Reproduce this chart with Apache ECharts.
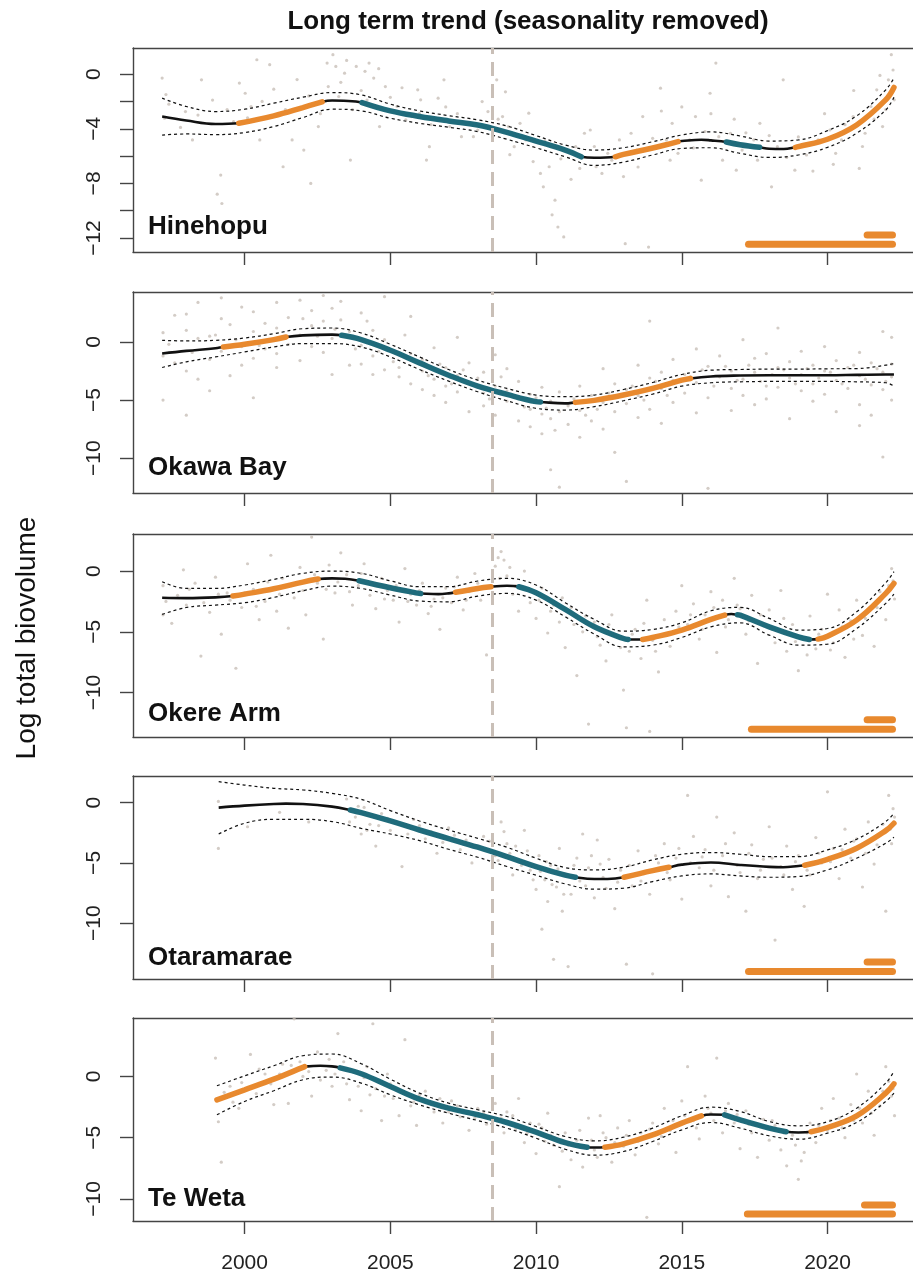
<!DOCTYPE html>
<html>
<head>
<meta charset="utf-8">
<title>Long term trend</title>
<script src="https://cdn.jsdelivr.net/npm/echarts@6/dist/echarts.min.js"></script>
<style>
  html, body { margin: 0; padding: 0; background: #fff; }
  #chart { width: 913px; height: 1273px; }
</style>
</head>
<body>
<div id="chart"></div>
<script>
// 站点名称
const sites = ['Hinehopu', 'Okawa Bay', 'Okere Arm', 'Otaramarae', 'Te Weta']

// 坐标轴
const xTicks = [2000, 2005, 2010, 2015, 2020]
const yMin = [-13.02, -13.0, -13.66, -14.63, -11.8]
const yMax = [1.91, 4.3, 3.05, 2.21, 4.77]
const yTicks = [[-12, -10, -8, -6, -4, -2, 0], [-10, -5, 0], [-10, -5, 0], [-10, -5, 0], [-10, -5, 0]]
const yLabels = [[-12, -8, -4, 0], [-10, -5, 0], [-10, -5, 0], [-10, -5, 0], [-10, -5, 0]]
const breakYear = 2008.5

// Hinehopu
const hinehopuFit = [[1997.17,-3.11],[1998,-3.4],[1999,-3.65],[1999.8,-3.6],[2001,-3.06],[2002,-2.45],[2002.66,-2.03],[2003,-1.93],[2003.4,-1.95],[2004.03,-2.08],[2005,-2.69],[2006,-3.1],[2007,-3.43],[2008,-3.72],[2009,-4.26],[2010,-4.9],[2011,-5.56],[2011.55,-6.05],[2012,-6.12],[2012.72,-6.05],[2013,-5.88],[2014,-5.41],[2014.87,-4.94],[2015,-4.9],[2015.67,-4.8],[2016,-4.85],[2016.53,-4.97],[2017,-5.17],[2017.67,-5.36],[2018,-5.46],[2018.5,-5.48],[2018.9,-5.36],[2019,-5.31],[2020,-4.77],[2021,-3.72],[2022,-1.88],[2022.28,-0.98]]
const hinehopuUpper = [[1997.17,-1.76],[1998,-2.37],[1999,-2.74],[2000,-2.57],[2001,-2.13],[2002,-1.69],[2003,-1.35],[2004,-1.52],[2005,-2.2],[2006,-2.69],[2007,-3.04],[2008,-3.35],[2009,-3.8],[2010,-4.5],[2011,-5.19],[2012,-5.56],[2013,-5.39],[2014,-4.95],[2015,-4.46],[2016,-4.23],[2017,-4.53],[2018,-4.9],[2019,-4.82],[2020,-4.14],[2021,-3.06],[2022,-1.15],[2022.28,-0.29]]
const hinehopuLower = [[1997.17,-4.46],[1998,-4.38],[1999,-4.43],[2000,-4.28],[2001,-3.84],[2002,-3.18],[2003,-2.57],[2004,-2.69],[2005,-3.23],[2006,-3.6],[2007,-3.89],[2008,-4.21],[2009,-4.77],[2010,-5.39],[2011,-6.05],[2012,-6.68],[2013,-6.44],[2014,-5.92],[2015,-5.44],[2016,-5.39],[2017,-5.8],[2018,-6.1],[2019,-5.92],[2020,-5.36],[2021,-4.33],[2022,-2.62],[2022.28,-1.69]]
const hinehopuSegs = [[1999.8,2002.66,'inc'],[2004.03,2011.55,'dec'],[2012.72,2014.87,'inc'],[2016.53,2017.67,'dec'],[2018.9,2022.28,'inc']]
const hinehopuBars = [[2017.29,2022.23,-12.46],[2021.36,2022.23,-11.78]]
const hinehopuDots = [[1997.17,-0.29],[1997.25,-3.23],[1997.97,-2.74],[1998.21,-4.82],[1998.52,-0.42],[1999.06,-8.79],[1999.18,-7.39],[1999.22,-9.47],[1999.62,-3.48],[1999.82,-0.66],[2000.02,-1.4],[2000.22,-2.37],[2000.42,1.05],[2000.52,-4.82],[2000.86,0.69],[2001.32,-6.78],[2001.63,-4.82],[2002.03,-5.56],[2002.27,-8.0],[2002.53,-3.84],[2002.83,0.81],[2002.87,-0.91],[2003.03,1.42],[2003.13,0.56],[2003.23,-1.64],[2003.43,0.07],[2003.63,-6.29],[2003.83,0.56],[2004.13,0.2],[2004.27,0.81],[2004.43,-0.29],[2004.63,-3.84],[2004.83,-0.91],[2005.23,-2.37],[2005.53,-3.35],[2005.74,-3.11],[2005.94,-1.15],[2006.04,-1.88],[2006.24,-6.29],[2006.34,-5.31],[2006.64,-1.76],[2006.84,-0.42],[2007.04,-3.84],[2007.44,-4.58],[2007.85,-4.58],[2008.15,-2.01],[2008.35,-2.74],[2008.65,-0.42],[2008.85,-3.11],[2009.05,-3.84],[2009.25,-5.31],[2009.45,-3.6],[2009.65,-4.82],[2009.75,-2.86],[2010.15,-7.27],[2010.25,-8.25],[2010.45,-6.78],[2010.65,-9.23],[2010.75,-11.19],[2010.95,-11.92],[2011.05,-5.56],[2011.36,-5.31],[2011.66,-4.33],[2011.86,-4.09],[2012.06,-6.78],[2012.26,-7.27],[2012.46,-5.8],[2012.86,-4.82],[2013.06,-12.41],[2013.26,-4.33],[2013.46,-5.56],[2013.66,-3.11],[2013.86,-12.66],[2014.27,-1.03],[2014.47,-4.82],[2014.67,-3.6],[2014.87,-5.8],[2015.27,-4.82],[2015.47,-3.11],[2015.67,-7.76],[2015.97,-1.4],[2016.17,0.81],[2016.27,-4.58],[2016.67,-4.33],[2016.87,-7.03],[2017.07,-5.56],[2017.47,-4.82],[2017.68,-3.6],[2018.08,-8.25],[2018.28,-5.31],[2018.48,-0.42],[2018.88,-7.03],[2019.28,-5.92],[2019.68,-4.82],[2020.08,-4.09],[2020.28,-5.8],[2020.48,-4.82],[2020.88,-3.11],[2021.09,-6.9],[2021.29,-4.33],[2021.49,-2.37],[2021.69,-1.15],[2021.89,-3.84],[2022.09,-0.42],[2022.19,1.42],[2022.29,-1.88],
  [1997.3,-1.5],[1997.4,-2.2],[1997.8,-3.9],[1998.4,-3.0],[1998.9,-1.9],[1999.4,-2.6],[2000.1,-3.2],[2000.6,-2.0],[2001.0,-1.1],[2001.4,-2.6],[2001.8,-0.4],[2002.2,-1.6],[2002.6,-2.9],[2003.3,-0.6],[2003.5,1.0],[2003.7,-2.6],[2004.0,-1.2],[2004.2,-1.9],[2004.6,0.4],[2005.0,-1.7],[2005.4,-1.0],[2006.0,-2.9],[2006.4,-3.7],[2006.9,-2.4],[2007.3,-2.9],[2007.6,-3.6],[2008.0,-4.1],[2008.7,-3.3],[2008.95,-1.3],[2009.1,-5.9],[2009.5,-4.6],[2009.9,-6.4],[2010.3,-4.9],[2010.55,-10.3],[2010.85,-6.2],[2011.2,-7.7],[2011.5,-6.9],[2012.0,-5.3],[2012.6,-6.3],[2013.0,-7.5],[2013.5,-6.8],[2014.0,-4.7],[2014.3,-2.7],[2014.6,-6.3],[2015.0,-2.4],[2015.4,-5.4],[2015.8,-4.2],[2016.0,-2.9],[2016.4,-6.3],[2016.8,-3.3],[2017.2,-4.3],[2017.6,-6.3],[2018.0,-4.5],[2018.6,-6.1],[2019.0,-4.6],[2019.5,-7.1],[2019.9,-2.9],[2020.2,-6.6],[2020.6,-3.7],[2020.9,-1.2],[2021.2,-5.3],[2021.6,-3.3],[2021.8,-0.1],[2022.0,-2.6],[2022.25,0.3]]

// Okawa Bay
const okawaFit = [[1997.17,-1.0],[1998,-0.77],[1999,-0.54],[1999.27,-0.43],[2000,-0.2],[2001,0.2],[2001.42,0.43],[2002,0.57],[2003,0.63],[2003.33,0.57],[2004,0.2],[2005,-0.71],[2006,-1.8],[2007,-2.86],[2008,-3.8],[2009,-4.51],[2010,-5.14],[2010.15,-5.17],[2011,-5.29],[2011.35,-5.2],[2012,-5.03],[2013,-4.57],[2014,-4.0],[2015,-3.29],[2015.3,-3.14],[2016,-2.97],[2017,-2.89],[2018,-2.86],[2019,-2.86],[2020,-2.86],[2021,-2.83],[2022,-2.8],[2022.28,-2.8]]
const okawaUpper = [[1997.17,0.14],[1998,0.09],[1999,0.14],[2000,0.34],[2001,0.71],[2002,1.14],[2003,1.2],[2004,0.77],[2005,-0.2],[2006,-1.29],[2007,-2.37],[2008,-3.29],[2009,-4.0],[2010,-4.57],[2011,-4.71],[2012,-4.57],[2013,-4.09],[2014,-3.49],[2015,-2.8],[2016,-2.43],[2017,-2.37],[2018,-2.34],[2019,-2.34],[2020,-2.31],[2021,-2.29],[2022,-2.0],[2022.28,-1.86]]
const okawaLower = [[1997.17,-2.2],[1998,-1.71],[1999,-1.29],[2000,-0.86],[2001,-0.43],[2002,-0.14],[2003,-0.14],[2004,-0.43],[2005,-1.29],[2006,-2.37],[2007,-3.37],[2008,-4.29],[2009,-5.06],[2010,-5.71],[2011,-5.86],[2012,-5.57],[2013,-5.06],[2014,-4.49],[2015,-3.8],[2016,-3.51],[2017,-3.43],[2018,-3.4],[2019,-3.4],[2020,-3.4],[2021,-3.43],[2022,-3.51],[2022.28,-3.8]]
const okawaSegs = [[1999.27,2001.42,'inc'],[2003.33,2010.15,'dec'],[2011.35,2015.3,'inc']]
const okawaBars = []
const okawaDots = [[1997.2,0.8],[1997.2,-1.2],[1997.2,-5.0],[1997.6,2.3],[1997.6,-1.8],[1998.0,2.4],[1998.0,1.0],[1998.0,-2.5],[1998.0,-6.3],[1998.4,3.4],[1998.4,0.3],[1998.4,-3.2],[1998.8,0.5],[1998.8,-1.5],[1998.8,-4.2],[1999.2,3.8],[1999.2,2.0],[1999.2,-0.8],[1999.5,1.5],[1999.5,-2.9],[1999.9,3.0],[1999.9,-0.4],[1999.9,-2.0],[2000.3,2.6],[2000.3,0.9],[2000.3,-1.4],[2000.3,-4.8],[2000.7,1.6],[2000.7,-0.6],[2001.1,3.4],[2001.1,1.2],[2001.1,-1.0],[2001.1,-2.2],[2001.5,2.1],[2001.5,-0.2],[2001.9,3.6],[2001.9,0.6],[2001.9,-1.6],[2002.3,2.7],[2002.3,1.4],[2002.3,-0.4],[2002.7,4.0],[2002.7,1.8],[2002.7,-0.9],[2003.0,2.9],[2003.0,0.3],[2003.0,-2.8],[2003.3,3.5],[2003.3,1.9],[2003.6,0.9],[2003.6,-2.0],[2004.0,2.5],[2004.0,-0.3],[2004.0,-1.9],[2004.4,1.0],[2004.4,-1.2],[2004.4,-2.8],[2004.8,3.9],[2004.8,0.2],[2004.8,-2.4],[2005.3,-0.9],[2005.3,-2.2],[2005.3,-3.0],[2005.7,2.2],[2005.7,-1.0],[2005.7,-3.6],[2006.1,-1.5],[2006.1,-2.5],[2006.1,-4.1],[2006.5,-0.5],[2006.5,-3.2],[2006.5,-4.6],[2006.9,-2.2],[2006.9,-3.8],[2006.9,-5.2],[2007.3,0.4],[2007.3,-2.9],[2007.3,-4.3],[2007.7,-1.8],[2007.7,-3.5],[2007.7,-6.0],[2008.2,-2.6],[2008.2,-4.4],[2008.2,-5.5],[2008.6,-1.1],[2008.6,-3.8],[2008.6,-6.3],[2009.0,-2.3],[2009.0,-4.2],[2009.0,-5.1],[2009.4,-3.4],[2009.4,-4.9],[2009.4,-6.8],[2009.8,-4.5],[2009.8,-5.8],[2009.8,-7.3],[2010.2,-3.9],[2010.2,-6.2],[2010.2,-7.9],[2010.5,-5.1],[2010.5,-6.6],[2010.5,-11.0],[2010.8,-12.5],[2010.8,-4.3],[2010.8,-6.0],[2011.1,-5.5],[2011.1,-7.1],[2011.5,-3.8],[2011.5,-5.9],[2011.5,-8.2],[2011.9,-4.6],[2011.9,-6.8],[2012.3,-2.3],[2012.3,-5.2],[2012.3,-7.5],[2012.7,-3.6],[2012.7,-6.0],[2012.7,-9.5],[2013.1,-4.1],[2013.1,-5.3],[2013.1,-12.0],[2013.5,-2.0],[2013.5,-4.6],[2013.5,-6.5],[2013.9,1.8],[2013.9,-3.1],[2013.9,-5.8],[2014.3,-2.6],[2014.3,-4.0],[2014.3,-7.0],[2014.7,-1.5],[2014.7,-3.3],[2014.7,-5.2],[2015.1,-2.8],[2015.1,-4.4],[2015.5,-0.6],[2015.5,-3.5],[2015.5,-6.1],[2015.9,-2.1],[2015.9,-4.8],[2015.9,-12.6],[2016.3,-1.2],[2016.3,-3.0],[2016.7,-2.5],[2016.7,-4.0],[2016.7,-5.9],[2017.1,0.2],[2017.1,-3.2],[2017.1,-4.6],[2017.5,-1.4],[2017.5,-2.6],[2017.5,-5.4],[2017.9,-1.0],[2017.9,-3.8],[2017.9,-4.9],[2018.3,1.2],[2018.3,-2.2],[2018.3,-3.9],[2018.7,-1.7],[2018.7,-3.1],[2018.7,-6.6],[2019.1,-0.8],[2019.1,-2.8],[2019.1,-4.2],[2019.5,-2.0],[2019.5,-3.6],[2019.5,-5.1],[2019.9,-0.4],[2019.9,-2.5],[2019.9,-4.5],[2020.3,-1.6],[2020.3,-3.3],[2020.3,-6.0],[2020.7,-2.2],[2020.7,-4.0],[2021.1,-0.9],[2021.1,-2.9],[2021.1,-5.4],[2021.1,-7.2],[2021.5,-1.8],[2021.5,-3.7],[2021.5,-6.3],[2021.9,0.9],[2021.9,-2.6],[2021.9,-4.1],[2021.9,-9.9],[2022.2,0.4],[2022.2,-1.9],[2022.2,-3.0],[2022.2,-5.0],
  [1997.4,-0.2],[1998.2,-0.9],[1999.0,0.6],[1999.7,0.2],[2000.5,-0.3],[2001.3,0.3],[2002.0,2.0],[2002.5,0.5],[2003.1,1.1],[2003.8,-0.6],[2004.2,1.8],[2004.6,-0.8],[2005.1,-1.7],[2005.5,0.6],[2006.3,-2.9],[2006.7,-1.9],[2007.1,-3.6],[2007.5,-2.4],[2008.0,-3.1],[2008.4,-4.9],[2008.8,-3.0],[2009.2,-4.6],[2009.6,-5.6],[2010.0,-4.8],[2010.35,-5.7],[2010.65,-7.6],[2011.3,-4.9],[2011.7,-6.3],[2012.1,-5.8],[2012.5,-4.4],[2013.3,-3.8],[2013.7,-5.0],[2014.1,-3.4],[2014.5,-4.6],[2015.3,-3.0],[2015.7,-2.4],[2016.1,-3.8],[2016.5,-2.1],[2016.9,-3.3],[2017.3,-2.0],[2017.7,-3.4],[2018.1,-2.8],[2018.5,-2.4],[2018.9,-3.6],[2019.3,-2.3],[2019.7,-3.1],[2020.1,-2.6],[2020.5,-3.6],[2020.9,-2.0],[2021.3,-3.2],[2021.7,-2.3],[2022.0,-3.4]]

// Okere Arm
const okereFit = [[1997.17,-2.2],[1998,-2.23],[1999,-2.17],[1999.6,-2.06],[2000,-1.9],[2001,-1.46],[2002,-0.91],[2002.52,-0.66],[2003,-0.6],[2003.45,-0.63],[2003.93,-0.8],[2005,-1.37],[2006,-1.84],[2006.04,-1.85],[2006.65,-1.9],[2007,-1.84],[2007.24,-1.75],[2008,-1.43],[2008.45,-1.29],[2009,-1.21],[2009.41,-1.29],[2010,-1.79],[2011,-3.16],[2012,-4.59],[2013,-5.55],[2013.16,-5.63],[2013.66,-5.63],[2014,-5.47],[2015,-4.86],[2016,-3.98],[2016.47,-3.63],[2016.7,-3.54],[2016.91,-3.6],[2017,-3.63],[2018,-4.59],[2019,-5.41],[2019.38,-5.63],[2019.68,-5.6],[2020,-5.36],[2021,-4.04],[2022,-1.84],[2022.28,-1.02]]
const okereUpper = [[1997.17,-0.88],[1998,-1.43],[1999,-1.43],[2000,-1.15],[2001,-0.69],[2002,-0.19],[2003,0],[2004,-0.19],[2005,-0.8],[2006,-1.29],[2007,-1.29],[2008,-0.82],[2009,-0.6],[2010,-1.15],[2011,-2.61],[2012,-3.98],[2013,-4.95],[2014,-4.81],[2015,-4.26],[2016,-3.27],[2017,-2.99],[2018,-3.9],[2019,-4.86],[2020,-4.73],[2021,-3.35],[2022,-0.96],[2022.28,-0.05]]
const okereLower = [[1997.17,-3.57],[1998,-3.0],[1999,-2.8],[2000,-2.61],[2001,-2.17],[2002,-1.62],[2003,-1.24],[2004,-1.43],[2005,-1.98],[2006,-2.47],[2007,-2.53],[2008,-2.06],[2009,-1.84],[2010,-2.39],[2011,-3.76],[2012,-5.19],[2013,-6.24],[2014,-6.1],[2015,-5.47],[2016,-4.59],[2017,-4.26],[2018,-5.27],[2019,-6.1],[2020,-6.02],[2021,-4.73],[2022,-2.66],[2022.28,-1.9]]
const okereSegs = [[1999.6,2002.52,'inc'],[2003.93,2006.04,'dec'],[2007.24,2008.45,'inc'],[2009.41,2013.16,'dec'],[2013.66,2016.47,'inc'],[2016.91,2019.38,'dec'],[2019.68,2022.28,'inc']]
const okereBars = [[2017.39,2022.23,-13.03],[2021.36,2022.23,-12.23]]
const okereDots = [[1997.2,-1.2],[1997.2,-3.6],[1997.5,-4.3],[1997.9,0.1],[1998.0,-2.8],[1998.3,-1.0],[1998.5,-7.0],[1998.8,-3.4],[1999.0,-0.5],[1999.2,-5.2],[1999.4,-1.8],[1999.7,-8.0],[1999.9,-3.0],[2000.1,0.6],[2000.3,-1.5],[2000.5,-4.0],[2000.7,-2.5],[2000.9,1.3],[2001.1,-3.3],[2001.3,-0.6],[2001.5,-4.7],[2001.7,-2.2],[2001.9,0.3],[2002.1,-3.6],[2002.3,2.8],[2002.5,-1.0],[2002.7,-5.6],[2002.9,0.5],[2003.1,-1.8],[2003.3,1.5],[2003.5,-0.3],[2003.7,-2.8],[2003.9,-1.2],[2004.1,0.6],[2004.3,-2.0],[2004.5,-3.1],[2004.7,-0.6],[2004.9,-1.6],[2005.1,-2.4],[2005.3,-4.2],[2005.5,0.2],[2005.7,-1.9],[2005.9,-2.8],[2006.1,-1.0],[2006.3,-3.5],[2006.5,-2.3],[2006.7,-4.8],[2006.9,-1.4],[2007.1,-2.6],[2007.3,-0.5],[2007.5,-3.2],[2007.7,-1.7],[2007.9,-0.2],[2008.1,-2.4],[2008.3,-6.9],[2008.6,0.4],[2008.8,1.6],[2008.9,0.9],[2009.0,-0.4],[2009.2,-1.9],[2009.4,-3.3],[2009.6,0.0],[2009.8,-2.6],[2010.0,-3.9],[2010.2,-1.4],[2010.4,-5.1],[2010.6,-2.8],[2010.8,-4.2],[2011.0,-6.3],[2011.2,-3.0],[2011.4,-8.6],[2011.6,-5.0],[2011.8,-12.6],[2012.0,-4.2],[2012.2,-6.1],[2012.4,-7.4],[2012.6,-3.6],[2012.8,-5.3],[2013.0,-9.8],[2013.1,-12.9],[2013.2,-6.6],[2013.4,-4.8],[2013.6,-7.2],[2013.8,-2.4],[2013.9,-13.2],[2014.0,-5.7],[2014.2,-8.3],[2014.4,-4.0],[2014.6,-6.2],[2014.8,-3.3],[2015.0,-1.2],[2015.2,-4.4],[2015.4,-2.7],[2015.6,-5.6],[2015.8,-3.6],[2016.0,-1.7],[2016.2,-6.7],[2016.4,-2.4],[2016.6,-4.0],[2016.8,-0.6],[2017.0,-3.1],[2017.2,-5.2],[2017.4,-2.0],[2017.6,-7.6],[2017.8,-4.5],[2018.0,-3.2],[2018.2,-5.9],[2018.4,-1.6],[2018.6,-6.6],[2018.8,-4.4],[2019.0,-8.2],[2019.2,-5.5],[2019.4,-3.7],[2019.6,-6.4],[2019.8,-4.8],[2020.0,-1.9],[2020.2,-5.9],[2020.4,-3.2],[2020.6,-7.1],[2020.8,-4.1],[2021.0,-2.4],[2021.2,-5.3],[2021.4,-3.3],[2021.6,-6.2],[2021.8,-1.7],[2022.0,-4.0],[2022.2,0.2],[2022.3,-2.3],
  [1997.3,-2.5],[1997.7,-2.0],[1998.1,-1.5],[1998.6,-2.6],[1999.1,-1.9],[1999.5,-2.4],[2000.0,-1.8],[2000.4,-2.9],[2000.8,-0.9],[2001.2,-1.9],[2001.6,-1.2],[2002.0,-1.6],[2002.4,-0.3],[2002.8,-1.5],[2003.2,-0.9],[2003.6,-1.7],[2004.0,-0.2],[2004.4,-1.1],[2004.8,-2.3],[2005.2,-1.2],[2005.6,-2.5],[2006.0,-1.6],[2006.4,-2.9],[2006.8,-2.2],[2007.2,-1.3],[2007.6,-2.4],[2008.0,-1.0],[2008.7,1.1],[2008.75,-0.6],[2009.1,0.3],[2009.3,-1.2],[2009.7,-1.6],[2010.1,-2.4],[2010.5,-3.3],[2010.9,-2.2],[2011.3,-4.4],[2011.7,-3.7],[2012.1,-5.4],[2012.5,-4.4],[2012.9,-6.3],[2013.3,-5.2],[2013.7,-4.3],[2014.1,-6.6],[2014.5,-5.2],[2014.9,-4.6],[2015.3,-3.6],[2015.7,-4.8],[2016.1,-3.0],[2016.5,-4.6],[2016.9,-2.8],[2017.3,-4.1],[2017.7,-3.6],[2018.1,-4.8],[2018.5,-3.9],[2018.9,-5.8],[2019.3,-6.9],[2019.7,-5.2],[2020.1,-6.5],[2020.5,-4.6],[2020.9,-5.6],[2021.3,-3.9],[2021.7,-3.0],[2022.1,-1.2],[2022.25,-0.8]]

// Otaramarae
const otaraFit = [[1999.11,-0.41],[2000,-0.25],[2001,-0.11],[2001.42,-0.08],[2002,-0.11],[2003,-0.33],[2003.63,-0.61],[2004,-0.83],[2005,-1.52],[2006,-2.27],[2007,-2.98],[2008,-3.7],[2009,-4.48],[2010,-5.3],[2011,-6.02],[2011.35,-6.19],[2012,-6.33],[2012.45,-6.33],[2013.02,-6.19],[2014,-5.64],[2014.56,-5.36],[2015,-5.14],[2016,-4.97],[2017,-5.17],[2018,-5.33],[2018.48,-5.36],[2019,-5.25],[2019.22,-5.19],[2020,-4.7],[2021,-3.78],[2022,-2.32],[2022.28,-1.71]]
const otaraUpper = [[1999.11,1.74],[2000,1.46],[2001,1.19],[2002,1.05],[2003,0.77],[2004,0.28],[2005,-0.66],[2006,-1.52],[2007,-2.27],[2008,-2.96],[2009,-3.7],[2010,-4.61],[2011,-5.39],[2012,-5.58],[2013,-5.36],[2014,-4.75],[2015,-4.28],[2016,-4.14],[2017,-4.28],[2018,-4.48],[2019,-4.48],[2020,-3.92],[2021,-3.04],[2022,-1.57],[2022.28,-0.88]]
const otaraLower = [[1999.11,-2.6],[2000,-1.71],[2001,-1.38],[2002,-1.38],[2003,-1.57],[2004,-2.13],[2005,-2.6],[2006,-3.15],[2007,-3.87],[2008,-4.53],[2009,-5.3],[2010,-6.02],[2011,-6.74],[2012,-7.18],[2013,-7.1],[2014,-6.55],[2015,-6.08],[2016,-5.91],[2017,-6.08],[2018,-6.19],[2019,-6.13],[2020,-5.58],[2021,-4.61],[2022,-3.37],[2022.28,-2.87]]
const otaraSegs = [[2003.63,2011.35,'dec'],[2013.02,2014.56,'inc'],[2019.22,2022.28,'inc']]
const otaraBars = [[2017.29,2022.23,-14.0],[2021.36,2022.23,-13.22]]
const otaraDots = [[1999.1,-3.8],[1999.1,0.1],[2000.1,-2.0],[2001.2,-0.8],[2002.2,-1.6],[2003.5,0.3],[2003.8,-1.2],[2004.0,-2.6],[2004.1,-0.4],[2004.3,-1.8],[2004.5,-3.6],[2004.7,-0.9],[2005.0,-2.3],[2005.4,-5.3],[2005.8,-1.4],[2006.2,-3.0],[2006.6,-4.2],[2007.0,-2.1],[2007.4,-3.9],[2007.8,-5.0],[2008.2,-2.8],[2008.6,-4.4],[2008.8,-1.6],[2009.0,-3.4],[2009.2,-6.0],[2009.4,-4.8],[2009.6,-2.3],[2009.8,-5.6],[2010.0,-7.2],[2010.1,-4.4],[2010.2,-10.5],[2010.3,-6.4],[2010.4,-8.2],[2010.5,-5.2],[2010.6,-13.0],[2010.7,-7.0],[2010.8,-3.8],[2010.9,-9.0],[2011.0,-5.9],[2011.1,-13.6],[2011.2,-7.6],[2011.4,-4.6],[2011.5,-6.5],[2011.6,-2.6],[2011.8,-5.4],[2012.0,-7.9],[2012.1,-3.1],[2012.3,-6.2],[2012.5,-4.7],[2012.7,-8.8],[2012.9,-5.6],[2013.1,-13.4],[2013.3,-6.9],[2013.5,-4.0],[2013.7,-5.9],[2013.9,-7.6],[2014.0,-14.2],[2014.2,-5.0],[2014.4,-3.4],[2014.6,-6.4],[2014.8,-4.6],[2015.0,-8.0],[2015.2,0.6],[2015.4,-2.8],[2015.6,-5.4],[2015.8,-3.9],[2016.0,-6.9],[2016.2,-1.2],[2016.4,-4.4],[2016.6,-7.8],[2016.8,-2.5],[2017.0,-5.8],[2017.2,-9.0],[2017.4,-3.5],[2017.6,-6.3],[2017.8,-4.7],[2018.0,-2.0],[2018.2,-11.4],[2018.4,-5.3],[2018.6,-3.6],[2018.8,-7.2],[2019.0,-4.4],[2019.2,-8.6],[2019.4,-6.0],[2019.6,-2.9],[2019.8,-5.0],[2020.0,0.9],[2020.2,-3.8],[2020.4,-6.3],[2020.6,-2.2],[2020.8,-4.6],[2021.0,-3.0],[2021.2,-7.0],[2021.4,-1.6],[2021.6,-5.1],[2021.8,-2.6],[2022.0,-9.0],[2022.1,0.6],[2022.2,-3.4],[2022.3,-1.2],
  [2003.6,-1.6],[2003.9,-0.3],[2004.2,-2.3],[2004.4,-1.1],[2004.6,-1.9],[2004.9,-1.3],[2005.2,-1.6],[2005.6,-2.6],[2006.0,-1.9],[2006.4,-2.4],[2006.8,-3.3],[2007.2,-2.7],[2007.6,-3.1],[2008.0,-3.6],[2008.4,-3.2],[2008.7,-4.8],[2008.9,-2.4],[2009.1,-4.2],[2009.3,-3.6],[2009.5,-5.2],[2009.7,-4.0],[2009.9,-6.4],[2010.15,-5.7],[2010.35,-4.9],[2010.55,-6.8],[2010.75,-5.5],[2010.95,-7.6],[2011.3,-5.2],[2011.7,-6.9],[2011.9,-4.4],[2012.2,-5.1],[2012.4,-7.1],[2012.8,-6.6],[2013.2,-5.2],[2013.6,-6.5],[2014.1,-4.4],[2014.5,-5.8],[2014.9,-3.8],[2015.3,-5.0],[2015.7,-4.5],[2016.1,-5.6],[2016.5,-3.4],[2016.9,-5.2],[2017.3,-4.2],[2017.7,-5.6],[2018.1,-4.6],[2018.5,-6.0],[2018.9,-4.9],[2019.3,-5.6],[2019.7,-4.2],[2020.1,-4.9],[2020.5,-3.9],[2020.9,-3.2],[2021.3,-4.2],[2021.7,-3.5],[2021.9,-1.8],[2022.15,-2.2],[2022.25,-0.5]]

// Te Weta
const tewetaFit = [[1999.05,-1.91],[2000,-1.09],[2001,-0.22],[2002,0.74],[2002.06,0.8],[2002.6,0.87],[2003,0.82],[2003.28,0.7],[2004,0.22],[2005,-0.82],[2006,-1.85],[2007,-2.59],[2008,-3.13],[2009,-3.76],[2010,-4.55],[2011,-5.4],[2011.75,-5.78],[2012,-5.8],[2012.36,-5.78],[2013,-5.5],[2014,-4.77],[2015,-3.81],[2015.67,-3.22],[2016,-3.11],[2016.47,-3.13],[2017,-3.54],[2018,-4.22],[2018.58,-4.52],[2019,-4.58],[2019.44,-4.52],[2020,-4.17],[2021,-3.22],[2022,-1.36],[2022.28,-0.6]]
const tewetaUpper = [[1999.05,-0.76],[2000,0.05],[2001,0.87],[2002,1.69],[2003,1.83],[2004,1.04],[2005,-0.22],[2006,-1.36],[2007,-2.18],[2008,-2.72],[2009,-3.27],[2010,-4.09],[2011,-4.9],[2012,-5.26],[2013,-4.96],[2014,-4.22],[2015,-3.21],[2016,-2.51],[2017,-2.86],[2018,-3.68],[2019,-4.03],[2020,-3.7],[2021,-2.59],[2022,-0.54],[2022.28,0.41]]
const tewetaLower = [[1999.05,-3.13],[2000,-2.04],[2001,-1.17],[2002,-0.27],[2003,-0.05],[2004,-0.54],[2005,-1.5],[2006,-2.32],[2007,-3.0],[2008,-3.6],[2009,-4.22],[2010,-5.04],[2011,-5.94],[2012,-6.43],[2013,-6.13],[2014,-5.31],[2015,-4.36],[2016,-3.76],[2017,-4.22],[2018,-4.85],[2019,-5.12],[2020,-4.63],[2021,-3.76],[2022,-2.04],[2022.28,-1.36]]
const tewetaSegs = [[1999.05,2002.06,'inc'],[2003.28,2011.75,'dec'],[2012.36,2015.67,'inc'],[2016.47,2018.58,'dec'],[2019.44,2022.28,'inc']]
const tewetaBars = [[2017.25,2022.23,-11.23],[2021.27,2022.23,-10.49]]
const tewetaDots = [[1999.0,1.5],[1999.1,-3.7],[1999.2,-7.0],[1999.5,-0.8],[1999.8,-2.6],[2000.2,1.8],[2000.4,-1.4],[2000.7,0.2],[2001.0,-2.3],[2001.3,1.0],[2001.5,-2.2],[2001.7,4.7],[2002.0,0.0],[2002.3,-1.6],[2002.5,2.0],[2002.8,0.5],[2003.0,-0.8],[2003.2,3.5],[2003.4,1.2],[2003.6,-1.9],[2003.8,0.4],[2004.0,-2.8],[2004.2,0.8],[2004.4,4.3],[2004.5,-1.0],[2004.7,-3.6],[2004.9,0.2],[2005.1,-1.8],[2005.3,-3.2],[2005.5,3.0],[2005.7,-2.4],[2005.9,-4.0],[2006.2,-1.2],[2006.5,-2.9],[2006.8,-3.8],[2007.1,-2.0],[2007.4,-3.3],[2007.7,-4.4],[2008.0,-2.6],[2008.3,-3.9],[2008.6,-2.2],[2008.9,-4.6],[2009.2,-3.2],[2009.4,-1.8],[2009.6,-5.4],[2009.8,-3.8],[2010.0,-6.3],[2010.2,-4.2],[2010.4,-3.0],[2010.6,-5.6],[2010.8,-9.0],[2011.0,-4.6],[2011.2,-6.8],[2011.4,-5.2],[2011.6,-7.4],[2011.8,-3.4],[2012.0,-6.0],[2012.2,-3.2],[2012.4,-5.0],[2012.6,-7.0],[2012.8,-4.2],[2013.0,-5.7],[2013.2,-3.6],[2013.4,-6.4],[2013.6,-4.6],[2013.8,-11.5],[2014.0,-3.8],[2014.2,-5.5],[2014.4,-2.6],[2014.6,-4.4],[2014.8,-6.2],[2015.0,-2.0],[2015.2,0.8],[2015.4,-3.6],[2015.6,-5.1],[2015.8,-1.6],[2016.0,-3.0],[2016.2,1.5],[2016.4,-4.6],[2016.6,-2.2],[2016.8,-3.8],[2017.0,-5.9],[2017.2,-2.8],[2017.4,-4.6],[2017.6,-6.6],[2017.8,-3.5],[2018.0,-5.2],[2018.2,-4.0],[2018.4,-6.0],[2018.6,-7.3],[2018.8,-4.8],[2019.0,-8.4],[2019.2,-6.2],[2019.4,-3.8],[2019.6,-5.4],[2019.8,-2.6],[2020.0,-4.4],[2020.2,-1.8],[2020.4,-3.4],[2020.6,-5.0],[2020.8,-2.3],[2021.0,0.2],[2021.2,-3.8],[2021.4,-1.2],[2021.6,-4.8],[2021.8,-2.4],[2022.0,0.8],[2022.2,-1.6],[2022.3,-3.2],
  [1999.3,-1.3],[1999.6,-2.1],[1999.9,-0.5],[2000.1,-1.0],[2000.5,0.6],[2000.9,-0.6],[2001.2,0.2],[2001.6,0.9],[2001.9,1.2],[2002.2,0.4],[2002.6,-0.3],[2002.9,1.4],[2003.1,0.2],[2003.5,-0.6],[2003.9,-0.8],[2004.1,-0.1],[2004.3,-1.5],[2004.6,-0.3],[2004.8,-1.6],[2005.0,-0.6],[2005.4,-1.3],[2005.8,-2.1],[2006.0,-1.5],[2006.4,-2.3],[2006.7,-1.8],[2007.0,-2.9],[2007.3,-2.4],[2007.6,-3.0],[2007.9,-3.4],[2008.2,-3.0],[2008.8,-3.4],[2009.0,-2.9],[2009.3,-4.3],[2009.7,-4.6],[2010.1,-3.9],[2010.3,-5.3],[2010.5,-4.8],[2010.9,-6.1],[2011.1,-5.6],[2011.5,-4.4],[2011.9,-5.2],[2012.1,-6.6],[2012.3,-4.6],[2012.7,-5.4],[2013.1,-4.8],[2013.5,-5.3],[2013.9,-4.3],[2014.3,-4.9],[2014.7,-3.6],[2015.1,-3.2],[2015.5,-4.2],[2015.9,-2.6],[2016.1,-3.6],[2016.5,-2.8],[2016.9,-3.1],[2017.3,-3.9],[2017.7,-4.1],[2018.1,-3.6],[2018.5,-4.6],[2018.9,-5.6],[2019.1,-6.9],[2019.3,-4.6],[2019.7,-4.0],[2020.1,-3.6],[2020.5,-4.2],[2020.9,-3.6],[2021.1,-2.6],[2021.5,-3.0],[2021.9,-1.2],[2022.1,-0.4],[2022.25,-1.0]]

const panels = [
  { fit: hinehopuFit, upper: hinehopuUpper, lower: hinehopuLower, segs: hinehopuSegs, bars: hinehopuBars, dots: hinehopuDots },
  { fit: okawaFit, upper: okawaUpper, lower: okawaLower, segs: okawaSegs, bars: okawaBars, dots: okawaDots },
  { fit: okereFit, upper: okereUpper, lower: okereLower, segs: okereSegs, bars: okereBars, dots: okereDots },
  { fit: otaraFit, upper: otaraUpper, lower: otaraLower, segs: otaraSegs, bars: otaraBars, dots: otaraDots },
  { fit: tewetaFit, upper: tewetaUpper, lower: tewetaLower, segs: tewetaSegs, bars: tewetaBars, dots: tewetaDots }
]

// 版面
const FONT = 'Liberation Sans, Arial, Helvetica, sans-serif'
const ORANGE = '#e8892e'
const TEAL = '#1f6b7b'
const DOT = '#c8bfb8'
const AXIS = '#444'
const gridTops = [48, 292, 534, 776, 1018]
const gridHeights = [204, 201, 203, 203, 203]
const labelY = [229, 470, 716, 960, 1201]
const xMin = 1996.17
const xMax = 2023.38

const minus = v => String(v).replace('-', '\u2212')
const frame = { show: true, onZero: false, lineStyle: { color: AXIS, width: 1.4 } }

let grids = [], xAxes = [], yAxes = [], topAxes = [], series = [], graphics = []

panels.forEach((p, i) => {
  grids.push({
    left: 133, width: 793, top: gridTops[i], height: gridHeights[i],
    outerBoundsMode: 'none', containLabel: false, show: false
  })
  xAxes.push({
    type: 'value', gridIndex: i, min: xMin, max: xMax, position: 'bottom',
    axisLine: frame,
    splitLine: { show: false },
    axisTick: { show: true, length: 13, customValues: xTicks, lineStyle: { color: AXIS, width: 1.4 } },
    axisLabel: {
      show: i === panels.length - 1, customValues: xTicks, margin: 32,
      fontSize: 21, color: '#222', fontFamily: FONT, formatter: v => String(v)
    }
  })
  // 上边框
  topAxes.push({
    type: 'value', gridIndex: i, min: xMin, max: xMax, position: 'top',
    axisLine: frame, axisTick: { show: false }, axisLabel: { show: false }, splitLine: { show: false }
  })
  yAxes.push({
    type: 'value', gridIndex: i, min: yMin[i], max: yMax[i], position: 'left',
    axisLine: frame,
    splitLine: { show: false },
    axisTick: { show: true, length: 13, customValues: yTicks[i], lineStyle: { color: AXIS, width: 1.4 } },
    axisLabel: {
      customValues: yLabels[i], rotate: 90, margin: 28,
      fontSize: 21, color: '#222', fontFamily: FONT, formatter: minus
    }
  })

  // 原始数据点 + 分界虚线
  series.push({
    type: 'scatter', xAxisIndex: i, yAxisIndex: i, data: p.dots,
    symbolSize: 3.2, itemStyle: { color: DOT }, silent: true, z: 1,
    markLine: {
      symbol: 'none', silent: true, label: { show: false },
      lineStyle: { color: '#c9bfb7', width: 3, type: [14, 8] },
      data: [{ xAxis: breakYear }]
    }
  })
  // 置信区间
  ;[p.upper, p.lower].forEach(d => {
    series.push({
      type: 'line', xAxisIndex: i, yAxisIndex: i, data: d, smooth: 0.4,
      showSymbol: false, silent: true, z: 2,
      lineStyle: { color: '#111', width: 1.2, type: [3, 3] }
    })
  })
  // 趋势线
  series.push({
    type: 'line', xAxisIndex: i, yAxisIndex: i, data: p.fit, smooth: 0.4,
    showSymbol: false, silent: true, z: 3,
    lineStyle: { color: '#111', width: 2.6 }
  })
  // 显著上升 / 下降段
  p.segs.forEach(s => {
    let part = p.fit.filter(d => d[0] >= s[0] - 1e-6 && d[0] <= s[1] + 1e-6)
    series.push({
      type: 'line', xAxisIndex: i, yAxisIndex: i, data: part, smooth: 0.4,
      showSymbol: false, silent: true, z: 4,
      lineStyle: { color: s[2] === 'inc' ? ORANGE : TEAL, width: 5.5, cap: 'round' }
    })
  })
  // 底部时段条
  p.bars.forEach(b => {
    series.push({
      type: 'line', xAxisIndex: i, yAxisIndex: i, data: [[b[0], b[2]], [b[1], b[2]]],
      showSymbol: false, silent: true, z: 4,
      lineStyle: { color: ORANGE, width: 7, cap: 'round' }
    })
  })

  graphics.push({
    type: 'text', left: 148, top: labelY[i] - 15,
    style: { text: sites[i], fontSize: 26, fontWeight: 'bold', fontFamily: FONT, fill: '#111' }
  })
})

graphics.push({
  type: 'text', x: 528, y: 22,
  style: { text: 'Long term trend (seasonality removed)', fontSize: 26, fontWeight: 'bold',
    fontFamily: FONT, fill: '#111', align: 'center', verticalAlign: 'middle' }
})
graphics.push({
  type: 'text', x: 27, y: 638, rotation: Math.PI / 2,
  style: { text: 'Log total biovolume', fontSize: 28, fontFamily: FONT, fill: '#111',
    align: 'center', verticalAlign: 'middle' }
})

const chart = echarts.init(document.getElementById('chart'))
chart.setOption({
  animation: false,
  backgroundColor: '#fff',
  grid: grids,
  xAxis: xAxes.concat(topAxes),
  yAxis: yAxes,
  series: series,
  graphic: graphics
})
window.addEventListener('resize', () => chart.resize())
</script>
</body>
</html>
